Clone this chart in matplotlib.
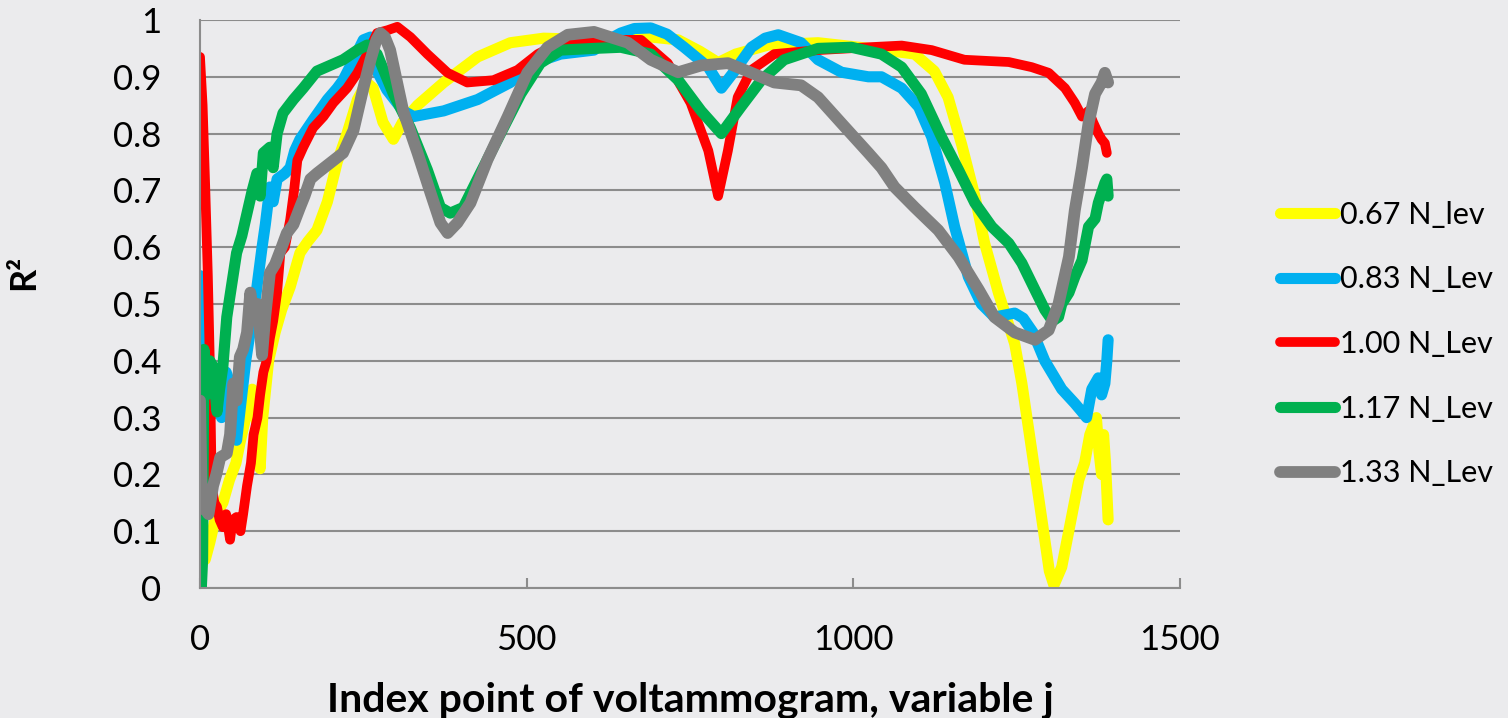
import matplotlib
matplotlib.use("Agg")
import matplotlib.pyplot as plt

plt.rcParams["font.family"] = ["Lato", "DejaVu Sans"]

# series (index j, R^2)
labels = ["0.67 N_lev", "0.83 N_Lev", "1.00 N_Lev", "1.17 N_Lev", "1.33 N_Lev"]
colors = ["#ffff00", "#00b0f0", "#ff0000", "#00b050", "#808080"]

x_067 = [2, 8, 15, 25, 35, 45, 55, 62, 70, 80, 88, 92, 96, 105, 115, 125, 138, 153, 165, 179,
         195, 210, 225, 241, 255, 265, 280, 296, 310, 333, 373, 425, 475, 526, 613, 690, 732,
         765, 793, 820, 870, 946, 1048, 1094, 1124, 1145, 1166, 1186, 1201, 1222, 1247, 1258,
         1273, 1288, 1300, 1307, 1319, 1334, 1345, 1354, 1362, 1372, 1376, 1380, 1383, 1386, 1390]
y_067 = [0.10, 0.05, 0.08, 0.13, 0.15, 0.19, 0.22, 0.26, 0.30, 0.35, 0.28, 0.21, 0.30, 0.40,
         0.45, 0.49, 0.53, 0.59, 0.61, 0.63, 0.68, 0.75, 0.80, 0.86, 0.89, 0.88, 0.82, 0.79,
         0.82, 0.85, 0.89, 0.935, 0.96, 0.968, 0.965, 0.97, 0.965, 0.945, 0.925, 0.94, 0.956,
         0.96, 0.947, 0.94, 0.91, 0.864, 0.78, 0.69, 0.607, 0.52, 0.43, 0.36, 0.243, 0.125,
         0.03, 0.005, 0.037, 0.125, 0.19, 0.22, 0.27, 0.30, 0.24, 0.20, 0.27, 0.22, 0.12]

x_083 = [0, 4, 8, 14, 20, 26, 33, 40, 46, 52, 56, 62, 70, 78, 86, 95, 100, 107, 112, 118,
         130, 138, 145, 153, 173, 195, 210, 219, 235, 250, 261, 271, 286, 311, 327, 373, 425,
         475, 511, 552, 603, 625, 644, 665, 690, 715, 741, 778, 798, 818, 844, 865, 885, 920,
         946, 982, 1023, 1043, 1074, 1100, 1120, 1140, 1155, 1176, 1196, 1216, 1247, 1260,
         1275, 1293, 1319, 1339, 1350, 1357, 1365, 1375, 1380, 1385, 1388, 1390]
y_083 = [0.55, 0.42, 0.33, 0.30, 0.36, 0.33, 0.30, 0.38, 0.36, 0.29, 0.26, 0.32, 0.40, 0.46,
         0.52, 0.60, 0.64, 0.706, 0.68, 0.72, 0.73, 0.74, 0.77, 0.79, 0.824, 0.86, 0.88, 0.894,
         0.93, 0.965, 0.97, 0.91, 0.877, 0.84, 0.83, 0.84, 0.86, 0.89, 0.924, 0.94, 0.947,
         0.965, 0.977, 0.985, 0.986, 0.975, 0.952, 0.917, 0.88, 0.91, 0.952, 0.968, 0.974,
         0.96, 0.93, 0.908, 0.90, 0.90, 0.88, 0.847, 0.794, 0.713, 0.636, 0.548, 0.50, 0.477,
         0.484, 0.475, 0.45, 0.40, 0.35, 0.325, 0.31, 0.30, 0.35, 0.37, 0.34, 0.36, 0.40, 0.437]

x_100 = [0, 4, 8, 12, 15, 18, 22, 26, 30, 35, 40, 46, 50, 56, 62, 66, 72, 78, 82, 88, 92, 97,
         102, 107, 112, 118, 123, 130, 138, 144, 149, 158, 173, 189, 204, 225, 241, 256, 271,
         287, 302, 322, 348, 379, 409, 449, 486, 517, 552, 603, 675, 716, 751, 778, 793, 808,
         823, 844, 879, 946, 1023, 1074, 1120, 1170, 1238, 1273, 1299, 1324, 1339, 1350, 1360,
         1367, 1375, 1380, 1385, 1388]
y_100 = [0.935, 0.85, 0.706, 0.55, 0.40, 0.18, 0.15, 0.143, 0.12, 0.107, 0.13, 0.085, 0.12,
         0.125, 0.10, 0.13, 0.18, 0.22, 0.27, 0.30, 0.34, 0.38, 0.40, 0.44, 0.47, 0.52, 0.59,
         0.60, 0.648, 0.70, 0.753, 0.776, 0.81, 0.83, 0.854, 0.88, 0.907, 0.94, 0.977, 0.982,
         0.988, 0.97, 0.94, 0.907, 0.89, 0.894, 0.912, 0.94, 0.961, 0.965, 0.965, 0.924, 0.854,
         0.77, 0.69, 0.77, 0.864, 0.912, 0.94, 0.947, 0.952, 0.955, 0.947, 0.93, 0.926, 0.917,
         0.907, 0.88, 0.854, 0.83, 0.84, 0.82, 0.80, 0.79, 0.783, 0.766]

x_117 = [0, 2, 4, 6, 10, 15, 20, 26, 30, 35, 41, 48, 56, 64, 72, 80, 87, 92, 97, 107, 112, 118,
         127, 143, 158, 179, 199, 219, 241, 256, 271, 296, 322, 348, 368, 383, 403, 429, 460,
         491, 521, 552, 603, 644, 690, 732, 767, 798, 828, 859, 894, 946, 997, 1043, 1074,
         1104, 1135, 1161, 1186, 1212, 1238, 1258, 1278, 1293, 1305, 1314, 1319, 1330, 1339,
         1350, 1360, 1370, 1375, 1385, 1388, 1390]
y_117 = [0.34, 0.0, 0.05, 0.42, 0.34, 0.40, 0.39, 0.31, 0.35, 0.39, 0.477, 0.53, 0.59, 0.62,
         0.66, 0.70, 0.73, 0.69, 0.766, 0.776, 0.74, 0.80, 0.836, 0.86, 0.88, 0.91, 0.92, 0.93,
         0.947, 0.956, 0.94, 0.87, 0.81, 0.736, 0.67, 0.66, 0.67, 0.73, 0.80, 0.87, 0.924,
         0.947, 0.95, 0.952, 0.94, 0.894, 0.84, 0.80, 0.847, 0.894, 0.93, 0.95, 0.952, 0.94,
         0.917, 0.87, 0.794, 0.736, 0.678, 0.636, 0.607, 0.572, 0.525, 0.49, 0.47, 0.477, 0.50,
         0.52, 0.548, 0.577, 0.636, 0.65, 0.678, 0.713, 0.72, 0.69]

x_133 = [0, 3, 5, 13, 20, 25, 31, 41, 46, 51, 56, 61, 66, 72, 77, 81, 88, 95, 100, 107, 115,
         125, 133, 143, 153, 160, 169, 179, 199, 219, 235, 250, 261, 270, 276, 283, 291, 311,
         333, 353, 368, 379, 394, 414, 440, 471, 501, 532, 563, 603, 655, 690, 732, 767, 808,
         844, 879, 920, 946, 982, 1023, 1043, 1063, 1094, 1130, 1161, 1192, 1216, 1247, 1278,
         1299, 1314, 1330, 1339, 1350, 1360, 1370, 1380, 1385, 1390]
y_133 = [0.33, 0.14, 0.143, 0.13, 0.18, 0.20, 0.23, 0.237, 0.27, 0.36, 0.33, 0.407, 0.42, 0.45,
         0.52, 0.49, 0.50, 0.41, 0.48, 0.555, 0.57, 0.60, 0.625, 0.64, 0.67, 0.69, 0.72, 0.73,
         0.748, 0.766, 0.806, 0.88, 0.93, 0.965, 0.977, 0.97, 0.947, 0.84, 0.766, 0.695, 0.643,
         0.625, 0.643, 0.678, 0.754, 0.83, 0.907, 0.952, 0.974, 0.979, 0.96, 0.93, 0.908, 0.92,
         0.924, 0.907, 0.89, 0.885, 0.864, 0.818, 0.766, 0.74, 0.706, 0.67, 0.63, 0.583, 0.525,
         0.477, 0.45, 0.437, 0.454, 0.50, 0.583, 0.665, 0.74, 0.818, 0.87, 0.89, 0.907, 0.89]

xs = [x_067, x_083, x_100, x_117, x_133]
ys = [y_067, y_083, y_100, y_117, y_133]
widths = [8, 8, 7, 8, 8.5]

y_ticks = [0, 0.1, 0.2, 0.3, 0.4, 0.5, 0.6, 0.7, 0.8, 0.9, 1]
y_tick_labels = ["0", "0.1", "0.2", "0.3", "0.4", "0.5", "0.6", "0.7", "0.8", "0.9", "1"]
x_ticks = [0, 500, 1000, 1500]

bg = "#ebebed"
grid_c = "#8c8c8c"

fig = plt.figure(figsize=(15.08, 7.18), dpi=100, facecolor=bg)
ax = fig.add_axes([200 / 1508, 130 / 718, 980 / 1508, 568 / 718])
ax.set_facecolor("none")

for x, y, c, lab, lw in zip(xs, ys, colors, labels, widths):
    ax.plot(x, y, color=c, lw=lw, label=lab, solid_capstyle="round", solid_joinstyle="round")

ax.set_xlim(0, 1500)
ax.set_ylim(0, 1)
ax.set_yticks(y_ticks)
ax.set_yticklabels(y_tick_labels)
ax.set_xticks(x_ticks)
ax.yaxis.grid(True, color=grid_c, lw=1.5)
ax.set_axisbelow(True)
for s in ["top", "right"]:
    ax.spines[s].set_visible(False)
for s in ["left", "bottom"]:
    ax.spines[s].set_color(grid_c)
    ax.spines[s].set_linewidth(1.5)
ax.tick_params(axis="y", length=0, pad=28, labelsize=25)
ax.tick_params(axis="x", direction="in", length=7, width=1.5, color=grid_c, pad=26, labelsize=25)

ax.set_xlabel("Index point of voltammogram, variable j", fontsize=29.5, fontweight="bold", labelpad=18)
ax.set_ylabel("R²", fontsize=26, fontweight="bold", labelpad=52, y=0.555)

fig.legend(loc="center left", bbox_to_anchor=(1280 / 1508, 1 - 344 / 718), frameon=False,
           borderpad=0, borderaxespad=0, fontsize=22, handlelength=1.8, handletextpad=0.15,
           labelspacing=1.2)

fig.savefig("out.png", dpi=100, facecolor=bg)
